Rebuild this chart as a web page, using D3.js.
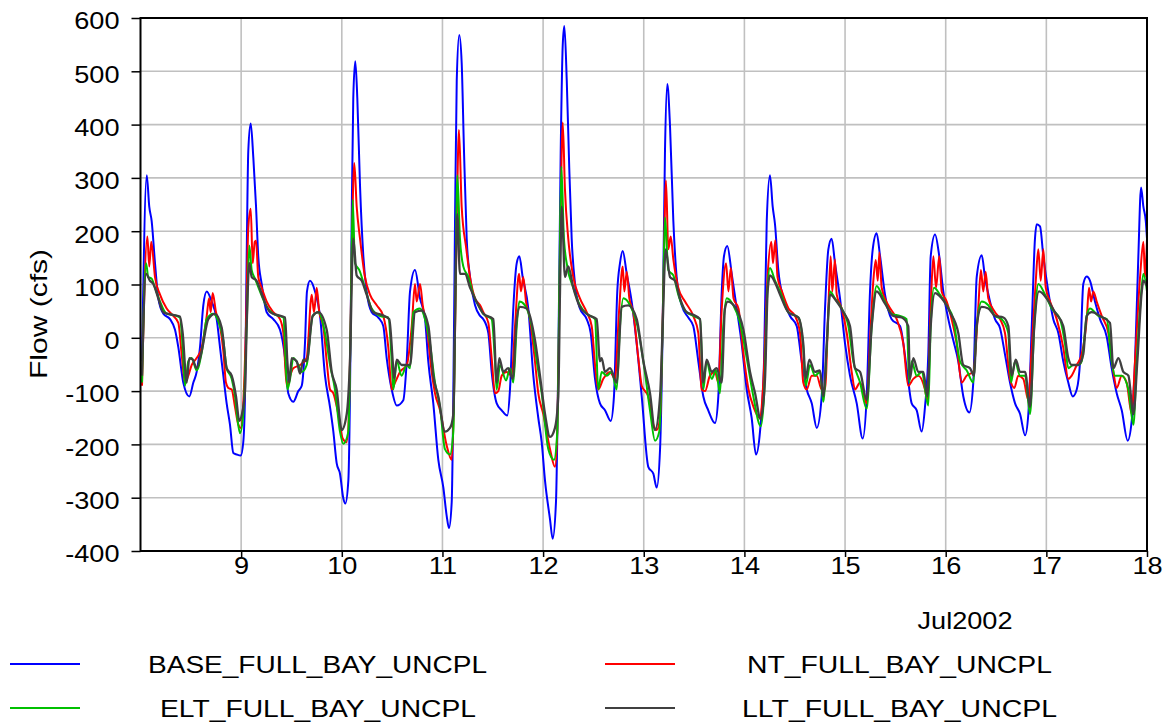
<!DOCTYPE html>
<html><head><meta charset="utf-8">
<script src="https://cdn.jsdelivr.net/npm/d3@7"></script>
<style>
body{margin:0;background:#fff;}
svg{display:block;font-family:"Liberation Sans",Arial,sans-serif;}
</style></head><body>
<svg id="chart" width="1169" height="726"></svg>
<script>
// ---- data (day of month, July 2002 ; flow in cfs) ----
const seriesNames = ["BASE_FULL_BAY_UNCPL","NT_FULL_BAY_UNCPL","ELT_FULL_BAY_UNCPL","LLT_FULL_BAY_UNCPL"];
const yTicks = [-400,-300,-200,-100,0,100,200,300,400,500,600];
const xTickDays = [9,10,11,12,13,14,15,16,17,18];
const xTickLabels = ["9","10","11","12","13","14","15","16","17","18"];
const monthLabel = "Jul2002";

const baseFlow = [[8.015,-44],[8.062,305],[8.087,246],[8.111,219],[8.144,140],[8.177,74],[8.227,45],[8.293,35],[8.343,15],[8.376,-18],[8.425,-84],[8.485,-110],[8.525,-84],[8.558,-64],[8.591,-18],[8.624,61],[8.658,87],[8.707,68],[8.757,35],[8.790,-18],[8.823,-71],[8.856,-123],[8.889,-163],[8.922,-216],[8.956,-219],[8.996,-221],[9.021,-196],[9.038,-110],[9.055,153],[9.071,351],[9.095,402],[9.121,338],[9.148,246],[9.170,153],[9.204,101],[9.254,48],[9.319,35],[9.386,15],[9.436,-38],[9.468,-104],[9.518,-120],[9.568,-100],[9.602,-90],[9.634,-11],[9.654,87],[9.684,107],[9.734,87],[9.784,41],[9.833,-71],[9.883,-130],[9.916,-176],[9.949,-235],[9.982,-255],[10.015,-301],[10.035,-311],[10.065,-268],[10.081,-110],[10.098,219],[10.114,450],[10.134,519],[10.154,450],[10.181,285],[10.214,153],[10.247,87],[10.297,48],[10.363,38],[10.412,22],[10.446,-38],[10.496,-97],[10.546,-127],[10.611,-117],[10.645,-44],[10.678,87],[10.727,127],[10.777,74],[10.827,35],[10.859,-44],[10.909,-123],[10.959,-229],[11.009,-281],[11.042,-334],[11.065,-357],[11.092,-308],[11.108,-110],[11.125,219],[11.142,483],[11.167,568],[11.191,516],[11.214,351],[11.241,186],[11.274,114],[11.324,61],[11.374,41],[11.406,35],[11.456,9],[11.489,-64],[11.539,-123],[11.589,-136],[11.644,-146],[11.671,-97],[11.704,55],[11.738,140],[11.764,153],[11.797,114],[11.853,55],[11.903,-71],[11.952,-150],[11.986,-196],[12.019,-268],[12.069,-341],[12.095,-377],[12.128,-308],[12.151,-44],[12.175,351],[12.195,549],[12.211,585],[12.235,483],[12.260,318],[12.284,186],[12.317,101],[12.366,55],[12.433,35],[12.473,9],[12.516,-77],[12.565,-123],[12.615,-136],[12.672,-156],[12.704,-110],[12.737,87],[12.764,140],[12.791,163],[12.831,120],[12.880,68],[12.930,-11],[12.980,-110],[13.045,-242],[13.095,-255],[13.129,-281],[13.162,-209],[13.188,22],[13.211,351],[13.234,476],[13.261,397],[13.294,219],[13.327,114],[13.377,61],[13.443,38],[13.492,22],[13.542,-44],[13.592,-110],[13.641,-136],[13.708,-160],[13.741,-110],[13.775,87],[13.797,153],[13.830,172],[13.874,120],[13.924,55],[13.973,-11],[14.023,-97],[14.072,-150],[14.115,-219],[14.155,-176],[14.195,-44],[14.222,219],[14.254,305],[14.281,246],[14.304,213],[14.337,127],[14.387,74],[14.453,41],[14.520,22],[14.569,-44],[14.619,-97],[14.669,-123],[14.719,-169],[14.768,-110],[14.801,55],[14.834,166],[14.867,186],[14.900,140],[14.950,74],[15.000,-11],[15.049,-71],[15.116,-123],[15.175,-189],[15.215,-110],[15.248,87],[15.275,166],[15.314,196],[15.348,153],[15.397,81],[15.463,35],[15.546,22],[15.612,-57],[15.662,-123],[15.712,-136],[15.761,-176],[15.794,-130],[15.827,-31],[15.851,153],[15.894,194],[15.936,153],[15.976,87],[16.026,35],[16.076,-5],[16.125,-44],[16.175,-110],[16.235,-140],[16.274,-84],[16.308,114],[16.358,155],[16.390,114],[16.440,68],[16.490,35],[16.540,18],[16.589,-31],[16.639,-84],[16.689,-123],[16.739,-143],[16.789,-183],[16.821,-143],[16.855,22],[16.887,186],[16.904,213],[16.937,209],[16.970,153],[17.019,87],[17.069,35],[17.119,9],[17.168,-44],[17.218,-84],[17.262,-110],[17.302,-97],[17.335,-44],[17.367,101],[17.401,115],[17.434,107],[17.483,68],[17.533,35],[17.600,2],[17.649,-57],[17.699,-104],[17.749,-136],[17.808,-193],[17.848,-156],[17.881,-44],[17.914,153],[17.941,282],[17.964,246],[17.988,219],[18.0,186]];

const ntFlow = [[8.015,-90],[8.068,190],[8.087,134],[8.107,180],[8.144,114],[8.194,81],[8.260,55],[8.326,41],[8.376,28],[8.409,-31],[8.442,-84],[8.475,-71],[8.509,-51],[8.558,-38],[8.608,-18],[8.658,41],[8.681,74],[8.697,48],[8.717,84],[8.750,48],[8.790,22],[8.823,-25],[8.849,-84],[8.872,-94],[8.906,-97],[8.939,-130],[8.972,-163],[8.996,-169],[9.021,-123],[9.048,22],[9.071,206],[9.095,242],[9.115,140],[9.135,180],[9.148,182],[9.170,114],[9.204,94],[9.254,68],[9.319,48],[9.386,35],[9.419,9],[9.453,-90],[9.486,-71],[9.518,-57],[9.585,-51],[9.651,-38],[9.701,81],[9.724,48],[9.751,94],[9.776,48],[9.816,22],[9.850,-44],[9.883,-97],[9.916,-104],[9.965,-143],[10.009,-189],[10.049,-196],[10.075,-110],[10.098,153],[10.124,328],[10.148,246],[10.181,186],[10.230,114],[10.280,81],[10.347,61],[10.412,41],[10.462,-18],[10.496,-97],[10.529,-84],[10.578,-64],[10.645,-51],[10.695,22],[10.727,101],[10.744,68],[10.777,101],[10.804,61],[10.844,22],[10.893,-64],[10.926,-104],[10.976,-136],[11.042,-202],[11.092,-229],[11.115,-110],[11.142,219],[11.164,390],[11.191,246],[11.237,167],[11.274,114],[11.324,74],[11.374,61],[11.406,48],[11.456,28],[11.489,-38],[11.522,-104],[11.555,-100],[11.589,-71],[11.638,-64],[11.688,-71],[11.721,22],[11.761,120],[11.780,87],[11.803,114],[11.830,68],[11.870,35],[11.919,-44],[11.952,-104],[12.002,-143],[12.069,-209],[12.118,-242],[12.141,-176],[12.168,153],[12.195,404],[12.217,279],[12.250,186],[12.300,114],[12.366,74],[12.433,48],[12.483,22],[12.516,-51],[12.548,-97],[12.598,-77],[12.665,-64],[12.714,-77],[12.754,48],[12.791,134],[12.807,87],[12.831,124],[12.857,74],[12.896,48],[12.946,-38],[12.980,-90],[13.045,-110],[13.095,-163],[13.129,-173],[13.162,-150],[13.194,87],[13.221,295],[13.244,166],[13.268,190],[13.294,147],[13.343,94],[13.410,68],[13.492,41],[13.542,9],[13.575,-97],[13.609,-100],[13.658,-71],[13.708,-64],[13.741,-84],[13.775,55],[13.818,140],[13.841,87],[13.865,131],[13.892,74],[13.941,55],[13.991,-31],[14.041,-97],[14.091,-130],[14.150,-150],[14.190,-77],[14.230,114],[14.267,180],[14.284,140],[14.307,183],[14.329,114],[14.373,87],[14.438,55],[14.503,41],[14.553,9],[14.585,-84],[14.619,-97],[14.669,-71],[14.719,-71],[14.768,-97],[14.801,-97],[14.834,55],[14.857,153],[14.873,87],[14.900,147],[14.917,81],[14.967,55],[15.017,9],[15.066,-64],[15.099,-97],[15.149,-84],[15.215,-123],[15.248,-5],[15.281,107],[15.305,146],[15.325,107],[15.341,160],[15.364,94],[15.430,61],[15.513,35],[15.579,-11],[15.628,-90],[15.678,-77],[15.728,-71],[15.794,-97],[15.817,-117],[15.851,55],[15.877,153],[15.904,94],[15.936,153],[15.960,87],[16.010,68],[16.059,35],[16.109,-11],[16.159,-84],[16.208,-71],[16.274,-64],[16.323,55],[16.350,127],[16.373,87],[16.397,124],[16.423,74],[16.490,48],[16.540,35],[16.589,9],[16.639,-77],[16.682,-94],[16.721,-71],[16.771,-77],[16.821,-117],[16.855,-18],[16.895,107],[16.920,166],[16.944,107],[16.970,166],[16.994,94],[17.037,68],[17.103,35],[17.168,-18],[17.218,-77],[17.252,-71],[17.302,-51],[17.351,-31],[17.401,35],[17.424,94],[17.444,68],[17.467,87],[17.500,68],[17.550,41],[17.616,9],[17.666,-64],[17.699,-94],[17.749,-71],[17.798,-84],[17.848,-143],[17.881,-44],[17.931,114],[17.964,180],[17.981,114],[18.0,186]];

const eltFlow = [[8.015,-84],[8.055,140],[8.077,114],[8.111,111],[8.144,94],[8.194,68],[8.260,45],[8.326,43],[8.392,38],[8.419,-18],[8.442,-90],[8.475,-44],[8.509,-38],[8.558,-61],[8.608,-28],[8.658,35],[8.723,45],[8.773,31],[8.823,-5],[8.856,-57],[8.906,-77],[8.939,-110],[8.962,-150],[8.989,-179],[9.021,-143],[9.055,22],[9.081,173],[9.105,127],[9.138,111],[9.187,87],[9.254,58],[9.319,45],[9.419,38],[9.459,-97],[9.486,-77],[9.518,-38],[9.568,-51],[9.602,-64],[9.651,-51],[9.711,41],[9.767,48],[9.833,9],[9.883,-51],[9.932,-97],[9.982,-176],[10.015,-199],[10.065,-176],[10.088,22],[10.108,259],[10.131,140],[10.174,127],[10.230,94],[10.297,55],[10.380,41],[10.462,38],[10.496,-44],[10.512,-97],[10.546,-44],[10.595,-71],[10.645,-51],[10.678,-57],[10.711,48],[10.777,55],[10.827,35],[10.876,-11],[10.926,-84],[10.976,-130],[11.025,-209],[11.075,-219],[11.108,-176],[11.125,22],[11.148,305],[11.174,186],[11.207,134],[11.257,114],[11.307,81],[11.374,55],[11.406,45],[11.489,35],[11.522,-44],[11.539,-97],[11.572,-51],[11.632,-80],[11.671,-57],[11.704,-84],[11.738,22],[11.764,68],[11.820,61],[11.887,22],[11.937,-44],[11.986,-104],[12.052,-209],[12.108,-229],[12.141,-176],[12.161,87],[12.181,321],[12.207,186],[12.240,134],[12.300,94],[12.366,61],[12.433,45],[12.516,35],[12.548,-97],[12.582,-64],[12.632,-71],[12.682,-64],[12.731,-97],[12.764,22],[12.797,74],[12.864,61],[12.930,28],[12.996,-44],[13.062,-136],[13.112,-193],[13.154,-176],[13.188,22],[13.211,226],[13.244,127],[13.294,117],[13.343,81],[13.410,51],[13.492,41],[13.559,35],[13.592,-97],[13.625,-44],[13.675,-77],[13.718,-61],[13.757,-104],[13.790,22],[13.824,74],[13.890,61],[13.957,28],[14.023,-38],[14.089,-110],[14.162,-166],[14.195,-110],[14.228,87],[14.254,131],[14.304,107],[14.354,87],[14.436,48],[14.536,38],[14.585,-18],[14.609,-90],[14.652,-51],[14.701,-71],[14.751,-64],[14.784,-120],[14.818,-18],[14.851,87],[14.900,74],[14.967,55],[15.033,22],[15.082,-44],[15.149,-84],[15.215,-133],[15.265,22],[15.314,97],[15.380,74],[15.463,45],[15.546,41],[15.612,35],[15.638,-84],[15.662,-44],[15.712,-71],[15.761,-64],[15.827,-127],[15.851,22],[15.884,94],[15.943,81],[16.010,61],[16.076,35],[16.142,-44],[16.208,-61],[16.274,-84],[16.308,22],[16.358,68],[16.423,61],[16.490,41],[16.556,35],[16.622,9],[16.649,-84],[16.689,-44],[16.739,-71],[16.789,-71],[16.838,-143],[16.880,22],[16.920,101],[16.987,81],[17.053,55],[17.136,35],[17.185,-11],[17.218,-57],[17.268,-51],[17.318,-51],[17.351,-44],[17.401,41],[17.434,55],[17.516,41],[17.600,35],[17.649,-44],[17.682,-71],[17.749,-71],[17.815,-97],[17.865,-163],[17.898,-44],[17.931,55],[17.964,120],[18.0,87]];

const lltFlow = [[8.015,-71],[8.055,120],[8.094,107],[8.127,101],[8.177,74],[8.227,48],[8.293,44],[8.392,40],[8.419,9],[8.459,-84],[8.485,-38],[8.519,-41],[8.558,-57],[8.608,-25],[8.674,35],[8.740,45],[8.807,19],[8.856,-57],[8.906,-71],[8.949,-110],[8.982,-156],[9.005,-146],[9.038,-100],[9.055,22],[9.081,140],[9.105,114],[9.154,107],[9.220,74],[9.287,48],[9.353,43],[9.436,38],[9.459,-44],[9.478,-84],[9.502,-38],[9.552,-44],[9.585,-67],[9.618,-41],[9.651,-44],[9.711,41],[9.767,48],[9.850,15],[9.900,-64],[9.949,-97],[9.999,-173],[10.049,-143],[10.081,-44],[10.114,186],[10.148,117],[10.198,107],[10.247,81],[10.313,48],[10.396,43],[10.472,35],[10.506,-44],[10.519,-77],[10.546,-41],[10.595,-51],[10.645,-51],[10.678,-51],[10.727,48],[10.794,51],[10.860,22],[10.909,-71],[10.959,-110],[11.025,-176],[11.075,-169],[11.108,-143],[11.135,153],[11.148,232],[11.174,120],[11.224,120],[11.274,94],[11.374,55],[11.406,45],[11.505,35],[11.539,-84],[11.565,-38],[11.605,-64],[11.654,-57],[11.698,-77],[11.738,35],[11.771,58],[11.837,55],[11.920,-5],[11.969,-71],[12.019,-143],[12.069,-186],[12.118,-169],[12.151,-110],[12.168,87],[12.185,246],[12.217,114],[12.250,134],[12.300,94],[12.366,58],[12.449,43],[12.532,35],[12.565,-44],[12.582,-38],[12.615,-64],[12.665,-57],[12.731,-84],[12.781,58],[12.847,61],[12.930,35],[12.996,-44],[13.062,-104],[13.112,-173],[13.162,-110],[13.188,22],[13.218,166],[13.261,114],[13.310,107],[13.360,74],[13.426,48],[13.492,43],[13.559,35],[13.592,-84],[13.625,-41],[13.675,-64],[13.724,-57],[13.774,-84],[13.807,55],[13.834,68],[13.907,58],[13.990,15],[14.056,-64],[14.106,-104],[14.162,-153],[14.205,-77],[14.231,87],[14.254,117],[14.304,104],[14.354,81],[14.436,48],[14.536,38],[14.585,-11],[14.609,-77],[14.645,-41],[14.701,-64],[14.751,-61],[14.784,-110],[14.818,-11],[14.851,81],[14.917,68],[14.984,48],[15.049,22],[15.099,-57],[15.149,-64],[15.215,-117],[15.265,22],[15.314,87],[15.397,64],[15.480,41],[15.563,38],[15.628,22],[15.645,-77],[15.678,-38],[15.728,-64],[15.778,-64],[15.817,-110],[15.851,22],[15.894,84],[15.960,74],[16.043,48],[16.125,9],[16.175,-51],[16.241,-57],[16.281,-71],[16.308,22],[16.358,58],[16.423,55],[16.490,41],[16.573,38],[16.622,22],[16.656,-71],[16.696,-41],[16.739,-64],[16.789,-64],[16.838,-130],[16.880,22],[16.927,87],[17.003,74],[17.086,48],[17.168,22],[17.218,-38],[17.252,-51],[17.318,-51],[17.367,-31],[17.401,41],[17.450,48],[17.533,41],[17.632,28],[17.666,-57],[17.716,-38],[17.765,-64],[17.815,-71],[17.865,-143],[17.904,-44],[17.948,87],[17.964,107],[18.0,97]];

const seriesData = [baseFlow, ntFlow, eltFlow, lltFlow];
const seriesColors = ["#0000ff","#ff0000","#00c000","#404040"];

// ---- layout ----
const svg = d3.select("#chart");
const L = 140.5, R = 1147, T = 18, B = 551;
const dayMs = 86400000;
const t0 = Date.UTC(2002,6,8);
const toDate = d => new Date(t0 + (d-8)*dayMs);

const x = d3.scaleUtc().domain([toDate(8), toDate(18)]).range([L, R]);
const y = d3.scaleLinear().domain([-400, 600]).range([B, T]);

// gridlines
svg.append("g").attr("class","grid")
  .selectAll("line.h").data(yTicks).join("line")
  .attr("x1",L).attr("x2",R).attr("y1",d=>y(d)).attr("y2",d=>y(d))
  .attr("stroke","#c0c0c0").attr("stroke-width",1.6);
svg.append("g").attr("class","grid")
  .selectAll("line.v").data(xTickDays).join("line")
  .attr("x1",d=>x(toDate(d))).attr("x2",d=>x(toDate(d))).attr("y1",T).attr("y2",B)
  .attr("stroke","#c0c0c0").attr("stroke-width",1.6);

// series lines
const line = d3.line().x(d=>x(toDate(d[0]))).y(d=>y(d[1])).curve(d3.curveMonotoneX);
svg.append("clipPath").attr("id","clip").append("rect").attr("x",L).attr("y",T).attr("width",R-L).attr("height",B-T);
const plot = svg.append("g").attr("clip-path","url(#clip)");
seriesData.forEach((s,i)=>{
  plot.append("path").datum(s).attr("d",line)
    .attr("fill","none").attr("stroke",seriesColors[i])
    .attr("stroke-width", i===3 ? 2.3 : 2).attr("stroke-linejoin","round");
});

// frame
svg.append("rect").attr("x",L).attr("y",T).attr("width",R-L).attr("height",B-T)
  .attr("fill","none").attr("stroke","#000").attr("stroke-width",2);

// axes
const yAxis = d3.axisLeft(y).tickValues(yTicks).tickSize(9).tickPadding(12).tickFormat(d => String(d));
const gy = svg.append("g").attr("transform",`translate(${L},0)`).call(yAxis);
gy.select(".domain").remove();
gy.selectAll("line").attr("stroke","#000").attr("stroke-width",1.5);
gy.selectAll("text").attr("font-size",24).attr("fill","#000").attr("dy","0.45em").attr("class","st")
  .attr("font-family","'Liberation Sans',Arial,sans-serif");

const xAxis = d3.axisBottom(x).tickValues(xTickDays.map(toDate)).tickSize(6).tickPadding(0)
  .tickFormat((d,i)=>xTickLabels[i]);
const gx = svg.append("g").attr("transform",`translate(0,${B})`).call(xAxis);
gx.select(".domain").remove();
gx.selectAll("line").attr("stroke","#000").attr("stroke-width",1.5);
gx.selectAll("text").attr("font-size",24).attr("fill","#000").attr("class","st")
  .attr("font-family","'Liberation Sans',Arial,sans-serif");

svg.append("text").attr("class","st").attr("x",965).attr("y",629).attr("text-anchor","middle")
  .attr("font-size",24).text(monthLabel);

svg.append("text").attr("transform","translate(47,314) rotate(-90)").attr("text-anchor","middle")
  .attr("font-size",24).attr("textLength",130).attr("lengthAdjust","spacingAndGlyphs").text("Flow (cfs)");

// legend
const legendPos = [
  {lx:10, ly:664, tx:317.5, tw:339},
  {lx:605, ly:664, tx:899.5, tw:305},
  {lx:10, ly:708, tx:318, tw:316},
  {lx:605, ly:708, tx:899.5, tw:315}
];
seriesNames.forEach((n,i)=>{
  const p = legendPos[i];
  svg.append("line").attr("x1",p.lx).attr("x2",p.lx+70).attr("y1",p.ly).attr("y2",p.ly)
    .attr("stroke",seriesColors[i]).attr("stroke-width",2.2);
  svg.append("text").attr("x",p.tx).attr("y",p.ly+9).attr("text-anchor","middle")
    .attr("font-size",24).attr("textLength",p.tw).attr("lengthAdjust","spacingAndGlyphs").text(n);
});

// mild horizontal stretch of tick labels to match reference glyph widths
svg.selectAll("text.st").each(function(){
  const w = this.getComputedTextLength();
  this.setAttribute("textLength", (w*1.13).toFixed(1));
  this.setAttribute("lengthAdjust","spacingAndGlyphs");
});
</script>
</body></html>
